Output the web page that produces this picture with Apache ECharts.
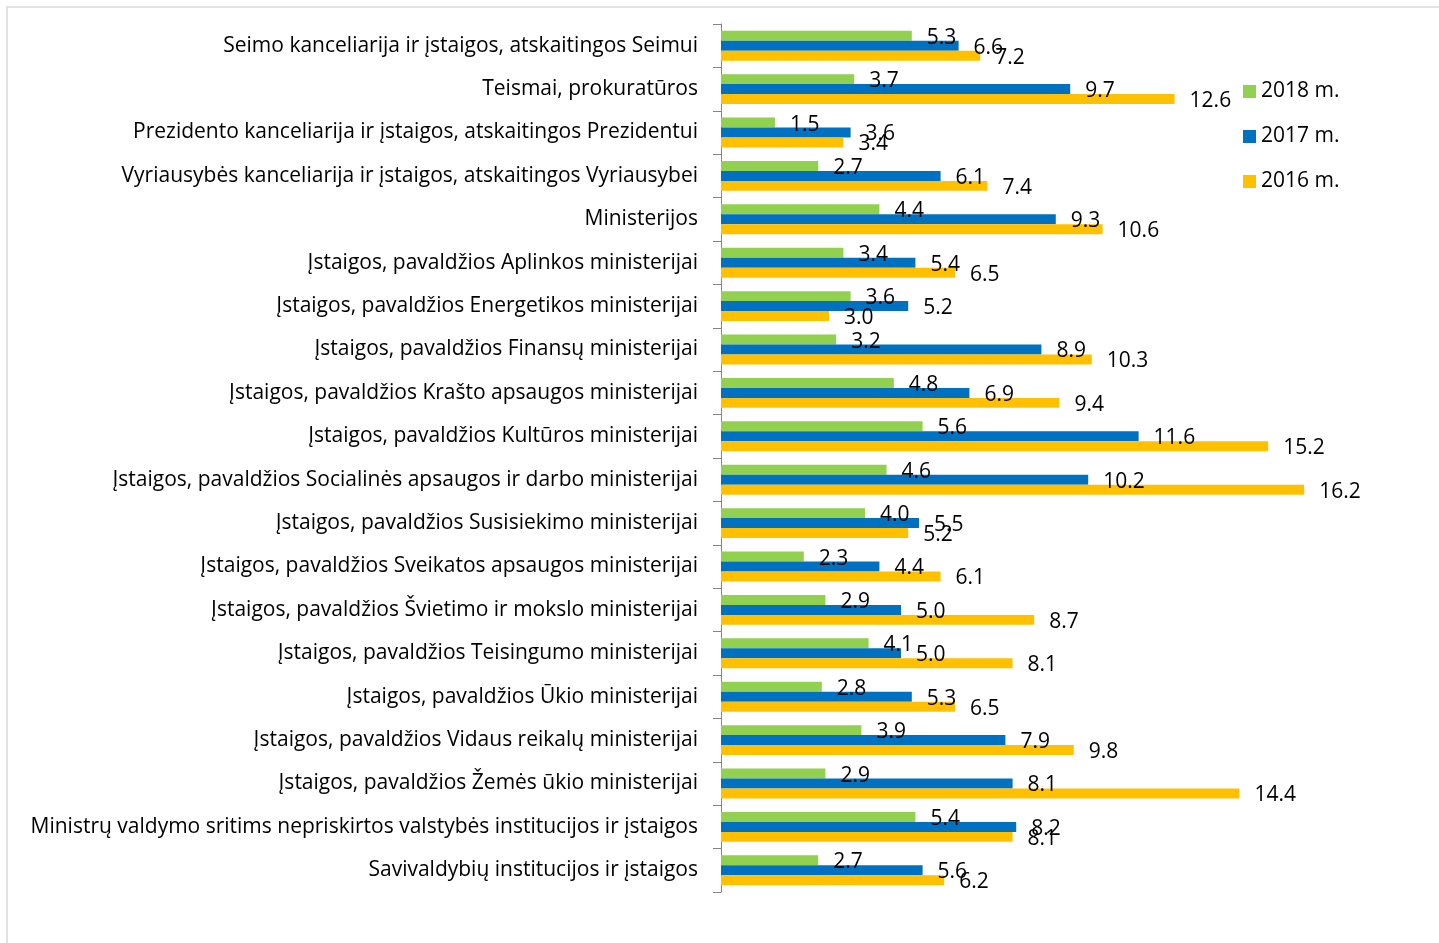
<!DOCTYPE html>
<html>
<head>
<meta charset="utf-8">
<script src="https://cdn.jsdelivr.net/npm/echarts@6/dist/echarts.min.js"></script>
<style>
html,body{margin:0;padding:0;background:#fff;}
#chart{width:1439px;height:943px;}
</style>
</head>
<body>
<div id="chart"></div>
<script>
const categories = [
  "Seimo kanceliarija ir įstaigos, atskaitingos Seimui",
  "Teismai, prokuratūros",
  "Prezidento kanceliarija ir įstaigos, atskaitingos Prezidentui",
  "Vyriausybės kanceliarija ir įstaigos, atskaitingos Vyriausybei",
  "Ministerijos",
  "Įstaigos, pavaldžios Aplinkos ministerijai",
  "Įstaigos, pavaldžios Energetikos ministerijai",
  "Įstaigos, pavaldžios Finansų ministerijai",
  "Įstaigos, pavaldžios Krašto apsaugos ministerijai",
  "Įstaigos, pavaldžios Kultūros ministerijai",
  "Įstaigos, pavaldžios Socialinės apsaugos ir darbo ministerijai",
  "Įstaigos, pavaldžios Susisiekimo ministerijai",
  "Įstaigos, pavaldžios Sveikatos apsaugos ministerijai",
  "Įstaigos, pavaldžios Švietimo ir mokslo ministerijai",
  "Įstaigos, pavaldžios Teisingumo ministerijai",
  "Įstaigos, pavaldžios Ūkio ministerijai",
  "Įstaigos, pavaldžios Vidaus reikalų ministerijai",
  "Įstaigos, pavaldžios Žemės ūkio ministerijai",
  "Ministrų valdymo sritims nepriskirtos valstybės institucijos ir įstaigos",
  "Savivaldybių institucijos ir įstaigos"
];
const seriesNames = ["2018 m.", "2017 m.", "2016 m."];
const values2018 = [5.3, 3.7, 1.5, 2.7, 4.4, 3.4, 3.6, 3.2, 4.8, 5.6, 4.6, 4.0, 2.3, 2.9, 4.1, 2.8, 3.9, 2.9, 5.4, 2.7];
const values2017 = [6.6, 9.7, 3.6, 6.1, 9.3, 5.4, 5.2, 8.9, 6.9, 11.6, 10.2, 5.5, 4.4, 5.0, 5.0, 5.3, 7.9, 8.1, 8.2, 5.6];
const values2016 = [7.2, 12.6, 3.4, 7.4, 10.6, 6.5, 3.0, 10.3, 9.4, 15.2, 16.2, 5.2, 6.1, 8.7, 8.1, 6.5, 9.8, 14.4, 8.1, 6.2];
const colors = ["#92D050", "#0070C0", "#FFC000"];

const FONT = "Open Sans";
const chart = echarts.init(document.getElementById('chart'));
const allValues = [values2018, values2017, values2016];
const series = seriesNames.map((name, i) => ({
  name: name,
  type: 'bar',
  data: allValues[i],
  barGap: '0%',
  barCategoryGap: '31%',
  itemStyle: { color: colors[i] },
  label: {
    show: true,
    position: 'right',
    distance: 15,
    color: '#000',
    fontFamily: FONT,
    fontSize: 21,
    offset: [0, 2],
    formatter: p => p.value.toFixed(1)
  }
}));

chart.setOption({
  animation: false,
  graphic: [{
    type: 'rect',
    shape: { x: 7, y: 7, width: 1500, height: 1000 },
    style: { fill: 'none', stroke: '#D9D9D9', lineWidth: 1.5 },
    silent: true
  }],
  legend: {
    orient: 'vertical',
    left: 1238,
    top: 76,
    itemWidth: 13,
    itemHeight: 13,
    itemGap: 24,
    icon: 'rect',
    textStyle: { fontFamily: FONT, fontSize: 21, color: '#000' },
    data: seriesNames
  },
  grid: { left: 721, top: 24, width: 648, height: 868, containLabel: false },
  xAxis: {
    type: 'value',
    min: 0,
    max: 18,
    show: false
  },
  yAxis: {
    type: 'category',
    inverse: true,
    data: categories,
    axisLine: { show: true, lineStyle: { color: '#868686', width: 1 } },
    axisTick: { show: true, length: 8, lineStyle: { color: '#868686' } },
    axisLabel: { margin: 23, color: '#000', fontFamily: FONT, fontSize: 21, padding: [2, 0, 0, 0] }
  },
  series: series
});
</script>
</body>
</html>
